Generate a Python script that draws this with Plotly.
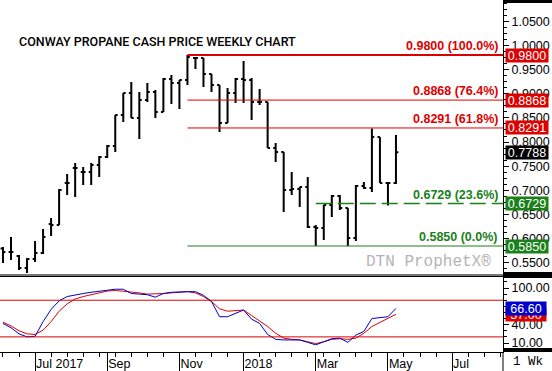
import plotly.graph_objects as go
import pandas as pd

# ---------------- data ----------------
week_dates = pd.date_range("2017-05-29", periods=50, freq="7D")

opens = [0.5800, 0.5725, 0.5643, 0.5395, 0.5581, 0.5705, 0.6305, 0.6284, 0.7153, 0.7463,
         0.7380, 0.7380, 0.7525, 0.7690, 0.7918, 0.8559, 0.9014, 0.8497, 0.8869, 0.9035,
         0.8621, 0.9304, 0.9221, 0.9283, 0.9738, 0.9738, 0.9407, 0.9180, 0.8394, 0.9014,
         0.9304, 0.9283, 0.8828, 0.8828, 0.7876, 0.7794, 0.7008, 0.7028, 0.7070, 0.6243,
         0.6222, 0.6698, 0.6884, 0.6636, 0.6015, 0.7091, 0.7049, 0.8104, 0.7153, 0.7153]
highs = [0.5829, 0.6036, 0.5663, 0.5601, 0.5953, 0.6201, 0.6429, 0.7028, 0.7339, 0.7566,
         0.7484, 0.7566, 0.7711, 0.7939, 0.8559, 0.9014, 0.9242, 0.9035, 0.9221, 0.9076,
         0.9324, 0.9386, 0.9283, 0.9800, 0.9759, 0.9738, 0.9407, 0.9180, 0.9117, 0.9324,
         0.9676, 0.9324, 0.9097, 0.8828, 0.7980, 0.7794, 0.7380, 0.7070, 0.7277, 0.6284,
         0.6698, 0.6904, 0.6904, 0.6636, 0.7111, 0.7173, 0.8280, 0.8104, 0.7153, 0.8145]
lows = [0.5498, 0.5560, 0.5353, 0.5291, 0.5519, 0.5684, 0.6056, 0.6284, 0.6904, 0.6863,
        0.7111, 0.7111, 0.7277, 0.7670, 0.7794, 0.8414, 0.8497, 0.8063, 0.8828, 0.8497,
        0.8621, 0.8787, 0.8683, 0.9180, 0.9510, 0.9138, 0.9035, 0.8207, 0.8394, 0.8807,
        0.8807, 0.8456, 0.8766, 0.7876, 0.7587, 0.6553, 0.6904, 0.6656, 0.6222, 0.5850,
        0.5974, 0.6449, 0.6594, 0.5850, 0.5953, 0.7028, 0.6966, 0.7153, 0.6690, 0.7132]
closes = [0.5725, 0.5725, 0.5395, 0.5581, 0.5705, 0.6036, 0.6284, 0.7008, 0.7153, 0.7463,
          0.7380, 0.7525, 0.7690, 0.7918, 0.8559, 0.9014, 0.8497, 0.8869, 0.9035, 0.8621,
          0.9304, 0.9221, 0.9283, 0.9759, 0.9738, 0.9407, 0.9180, 0.8394, 0.9014, 0.9304,
          0.9283, 0.8828, 0.8828, 0.7876, 0.7794, 0.7008, 0.7028, 0.7070, 0.6243, 0.6222,
          0.6698, 0.6884, 0.6636, 0.6015, 0.7091, 0.7049, 0.8104, 0.7153, 0.7153, 0.7788]

stoch_k = [42, 35, 25, 20, 21, 45, 65, 79, 86, 89,
           91, 93, 95, 97, 98, 98, 91, 90, 89, 85,
           91, 93, 94, 94, 94, 88, 78, 53, 53, 59,
           64, 49, 42, 24, 16, 15, 15, 15, 11, 7,
           12, 17, 18, 11, 23, 29, 50, 52, 53, 66.6]
stoch_d = [44, 38, 30, 25, 24, 31, 45, 62, 74, 82,
           86, 89, 92, 95, 96, 95, 94, 92, 90, 90,
           91, 92, 93, 94, 92, 86, 78, 66, 62, 63,
           64, 55, 46, 37, 26, 18, 16, 15, 12, 9,
           12, 16, 17, 16, 18, 26, 37, 44, 50, 57.0]

fib_levels = [0.9800, 0.8868, 0.8291, 0.6729, 0.5850]
fib_pcts = ["100.0%", "76.4%", "61.8%", "23.6%", "0.0%"]
stoch_bands = [80, 20]

tick_dates = ["2017-06-26", "2017-08-28", "2017-10-30", "2017-12-25",
              "2018-02-26", "2018-04-30", "2018-06-25"]
tick_labels = ["Jul 2017", "Sep", "Nov", "2018", "Mar", "May", "Jul"]

# ---------------- styling ----------------
W, H = 552, 371
RED = "#dd0000"
GREEN = "#1a801a"
BLUE = "#0000cc"
FONT = "Arial, Liberation Sans, sans-serif"

plot_right = 503 / W
main_dom = [1 - 274 / H, 1]
sto_dom = [1 - 352 / H, 1 - 277 / H]

x_start = week_dates[0] - pd.Timedelta(days=2.6)
x_end = x_start + pd.Timedelta(days=503 / 8.02 * 7)

hi_idx = max(range(len(highs)), key=lambda i: highs[i])
lo_idx = min(range(hi_idx, len(lows)), key=lambda i: lows[i])

fig = go.Figure()
fig.add_trace(go.Ohlc(
    x=week_dates, open=opens, high=highs, low=lows, close=closes,
    increasing=dict(line=dict(color="black", width=2)),
    decreasing=dict(line=dict(color="black", width=2)),
    tickwidth=0.3, hoverinfo="skip", showlegend=False,
    xaxis="x", yaxis="y"))

fig.add_trace(go.Scatter(x=week_dates, y=stoch_d, mode="lines",
                         line=dict(color=RED, width=1), xaxis="x2", yaxis="y2",
                         showlegend=False, hoverinfo="skip"))
fig.add_trace(go.Scatter(x=week_dates, y=stoch_k, mode="lines",
                         line=dict(color=BLUE, width=1), xaxis="x2", yaxis="y2",
                         showlegend=False, hoverinfo="skip"))

shapes = []
annotations = []
fib_colors = [RED, RED, RED, GREEN, GREEN]
for lvl, pct, col in zip(fib_levels, fib_pcts, fib_colors):
    dashed = abs(lvl - 0.6729) < 1e-6
    x0 = week_dates[lo_idx] if dashed else week_dates[hi_idx]
    width = 2 if lvl == max(fib_levels) else (1.5 if dashed else 1)
    shapes.append(dict(type="line", xref="x", yref="y", x0=x0, x1=x_end,
                       y0=lvl, y1=lvl,
                       line=dict(color=col, width=width,
                                 dash="16px,6px" if dashed else "solid")))
    annotations.append(dict(xref="paper", yref="y", x=500 / W, y=lvl,
                            xanchor="right", yanchor="bottom", yshift=0,
                            text=f"<b>{lvl:.4f} ({pct})</b>", showarrow=False,
                            font=dict(family=FONT, size=12.5, color=col)))
    annotations.append(dict(xref="paper", yref="y", x=505 / W, y=lvl,
                            xanchor="left", yanchor="middle",
                            text=f"{lvl:.4f}", showarrow=False, bgcolor=col,
                            width=42, height=13, borderpad=0,
                            font=dict(family=FONT, size=12.5, color="white")))

# last close box
annotations.append(dict(xref="paper", yref="y", x=505 / W, y=closes[-1],
                        xanchor="left", yanchor="middle", text=f"{closes[-1]:.4f}",
                        showarrow=False, bgcolor="black", width=42, height=13,
                        borderpad=0, font=dict(family=FONT, size=12.5, color="white")))

# stochastic bands
for b in stoch_bands:
    shapes.append(dict(type="line", xref="paper", yref="y2", x0=0, x1=plot_right,
                       y0=b, y1=b, line=dict(color=RED, width=1)))

annotations.append(dict(xref="paper", yref="y2", x=505 / W, y=stoch_d[-1],
                        xanchor="left", yanchor="middle", text=f"{stoch_d[-1]:.2f}",
                        showarrow=False, bgcolor=RED, width=40, height=13, borderpad=0,
                        font=dict(family=FONT, size=12.5, color="white")))
annotations.append(dict(xref="paper", yref="y2", x=505 / W, y=stoch_k[-1],
                        xanchor="left", yanchor="middle", text=f"{stoch_k[-1]:.2f}",
                        showarrow=False, bgcolor=BLUE, width=40, height=13, borderpad=0,
                        font=dict(family=FONT, size=12.5, color="white")))

# title, watermark, period
annotations.append(dict(xref="paper", yref="paper", x=17 / W, y=1 - 41 / H,
                        xanchor="left", yanchor="middle", showarrow=False,
                        text="CONWAY PROPANE CASH PRICE WEEKLY CHART",
                        font=dict(family="Roboto, Arial, sans-serif", size=12.5,
                                  color="black", weight=500)))
annotations.append(dict(xref="paper", yref="paper", x=493 / W, y=1 - 262 / H,
                        xanchor="right", yanchor="middle", showarrow=False,
                        text="DTN ProphetX®",
                        font=dict(family="Liberation Mono, Courier New, monospace",
                                  size=16, color="#b4b4b4")))
annotations.append(dict(xref="paper", yref="paper", x=511 / W, y=1 - 362 / H,
                        xanchor="left", yanchor="middle", showarrow=False,
                        text="1 Wk",
                        font=dict(family="Liberation Mono, Courier New, monospace",
                                  size=12.5, color="black")))

# decorative strips in right axis area
shapes += [
    dict(type="rect", xref="paper", yref="paper", x0=plot_right, x1=1,
         y0=1 - 3 / H, y1=1, fillcolor="black", line_width=0),
    dict(type="rect", xref="paper", yref="paper", x0=plot_right, x1=1,
         y0=1 - 278 / H, y1=1 - 272 / H, fillcolor="black", line_width=0),
    dict(type="rect", xref="paper", yref="paper", x0=plot_right, x1=1,
         y0=1 - 352 / H, y1=1 - 348 / H, fillcolor="black", line_width=0),
    dict(type="line", xref="paper", yref="paper", x0=plot_right, x1=plot_right,
         y0=0, y1=1 - 352 / H, line=dict(color="black", width=1)),
]

axis_font = dict(family=FONT, size=12.5, color="black")
fig.update_layout(
    width=W, height=H, margin=dict(l=0, r=0, t=0, b=0),
    paper_bgcolor="white", plot_bgcolor="white",
    showlegend=False, shapes=shapes, annotations=annotations,
    xaxis=dict(domain=[0, plot_right], range=[x_start, x_end], type="date",
               rangeslider=dict(visible=False), showticklabels=False, ticks="",
               showgrid=False, zeroline=False, showline=True, linecolor="#777",
               linewidth=2, anchor="y"),
    yaxis=dict(domain=main_dom, range=[0.5271, 1.0938], side="right",
               tickvals=[0.55 + 0.05 * i for i in range(11)], tickformat=".4f",
               ticks="outside", ticklen=5, tickcolor="black",
               minor=dict(dtick=0.0125, ticks="outside", ticklen=3, tickcolor="black"),
               showline=True, linecolor="black", linewidth=1, showgrid=False,
               zeroline=False, tickfont=axis_font, anchor="x"),
    xaxis2=dict(domain=[0, plot_right], range=[x_start, x_end], type="date",
                tickvals=tick_dates, ticktext=tick_labels, ticks="outside",
                ticklen=18, tickcolor="black", ticklabelposition="outside right",
                minor=dict(dtick=14 * 86400000, tick0="2017-05-29", ticks="outside",
                           ticklen=4, tickcolor="black"),
                showline=True, linecolor="black", linewidth=1, mirror=True,
                showgrid=False, zeroline=False, tickfont=axis_font, anchor="y2"),
    yaxis2=dict(domain=sto_dom, range=[-4.73, 118.0], side="right",
                tickvals=[10, 40, 70, 100], tickformat=".2f", ticks="outside",
                ticklen=5, tickcolor="black",
                minor=dict(dtick=10, ticks="outside", ticklen=3, tickcolor="black"),
                showline=True, linecolor="black", showgrid=False, zeroline=False,
                tickfont=axis_font, anchor="x2"),
)

fig.write_html("out.html", config={"displayModeBar": False},
               post_script="document.body.style.margin='0px';")
